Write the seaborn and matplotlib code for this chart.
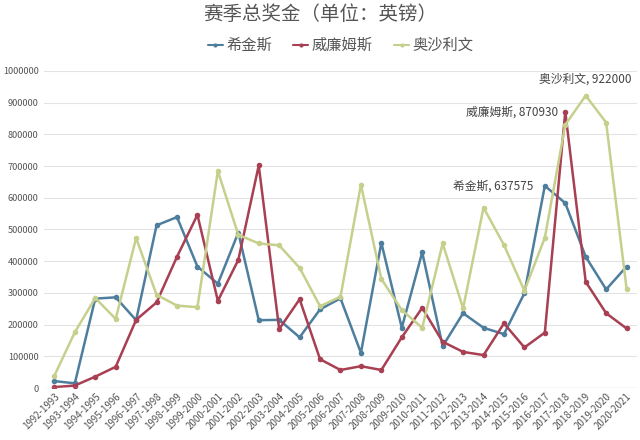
import pandas as pd
import matplotlib
matplotlib.use("Agg")
import matplotlib.pyplot as plt
import seaborn as sns

# seasons 1992-1993 .. 2020-2021
seasons = [f"{y}-{y + 1}" for y in range(1992, 2021)]

higgins = [22000, 15000, 282000, 286000, 214000, 513000, 539000, 383000, 329000, 490000,
           214000, 215000, 160000, 248000, 283000, 111000, 458000, 190000, 428000, 132000,
           236000, 190000, 170000, 299000, 637575, 583000, 414000, 311000, 383000]
williams = [3000, 8000, 36000, 67000, 215000, 270000, 414000, 546000, 275000, 404000,
            702000, 186000, 280000, 91000, 57000, 69000, 57000, 160000, 253000, 146000,
            114000, 104000, 204000, 128000, 175000, 870930, 335000, 236000, 188000]
osullivan = [39000, 176000, 284000, 218000, 473000, 294000, 260000, 255000, 684000, 483000,
             456000, 450000, 379000, 258000, 288000, 641000, 344000, 246000, 190000, 456000,
             251000, 569000, 451000, 307000, 474000, 830000, 922000, 837000, 313000]

names = ["希金斯", "威廉姆斯", "奥沙利文"]
colors = ["#4E7E9E", "#A83F52", "#C6D08C"]

df = pd.DataFrame({"赛季": seasons, names[0]: higgins, names[1]: williams, names[2]: osullivan})
df_long = df.melt(id_vars="赛季", var_name="选手", value_name="奖金")

sns.set_style("white")
plt.rcParams['font.family'] = ['Noto Sans CJK SC', 'DejaVu Sans']

fig = plt.figure(figsize=(6.4, 4.4), dpi=100)
ax = fig.add_axes([0.069, 0.118, 0.926, 0.721])

sns.lineplot(data=df_long, x="赛季", y="奖金", hue="选手", palette=colors,
             marker="o", markersize=4, markeredgewidth=0, linewidth=1.8, ax=ax)

ax.set_xlim(-0.5, len(seasons) - 0.5)
ax.set_ylim(0, 1000000)
ax.set_yticks(range(0, 1000001, 100000))
ax.set_yticklabels([str(v) for v in range(0, 1000001, 100000)])
ax.yaxis.grid(True, color="#e3e3e3", linewidth=0.8)
ax.set_xlabel("")
ax.set_ylabel("")
for s in ax.spines.values():
    s.set_visible(False)
ax.axhline(0, color="#d9d9d9", linewidth=0.9)
ax.tick_params(axis="y", labelsize=6.6, colors="#555555", length=0, pad=4)
ax.tick_params(axis="x", labelsize=7, colors="#555555", length=0, pad=2)
plt.setp(ax.get_xticklabels(), rotation=45, ha="right", rotation_mode="anchor")

# labels on the peaks
i = higgins.index(max(higgins))
ax.annotate(f"{names[0]}, {higgins[i]}", (i, higgins[i]), xytext=(-8, 0),
            textcoords="offset points", ha="right", va="center", fontsize=8.5, color="#444444")
i = williams.index(max(williams))
ax.annotate(f"{names[1]}, {williams[i]}", (i, williams[i]), xytext=(-5, 0),
            textcoords="offset points", ha="right", va="center", fontsize=8.5, color="#444444")
i = osullivan.index(max(osullivan))
ax.annotate(f"{names[2]}, {osullivan[i]}", (i, osullivan[i]), xytext=(0, 7),
            textcoords="offset points", ha="center", va="bottom", fontsize=8.5, color="#444444")

leg = ax.legend(loc="center", bbox_to_anchor=(0.5, 1.079), ncol=3, frameon=False,
                fontsize=11, handlelength=1.0, handletextpad=0.2, columnspacing=1.4,
                labelcolor="#555555")
for h in leg.get_lines():
    h.set_linewidth(1.5)
    h.set_markersize(3)
fig.suptitle("赛季总奖金（单位：英镑）", y=0.99, fontsize=14, color="#555555")

fig.savefig("out.png", dpi=100)
